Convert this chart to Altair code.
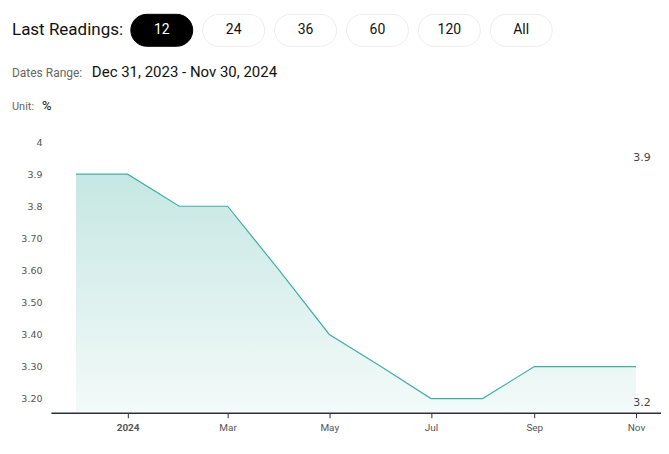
import altair as alt
import pandas as pd

dates = ["2023-12-01", "2024-01-01", "2024-02-01", "2024-03-01", "2024-04-01", "2024-05-01",
         "2024-06-01", "2024-07-01", "2024-08-01", "2024-09-01", "2024-10-01", "2024-11-01"]
values = [3.9, 3.9, 3.8, 3.8, 3.6, 3.4, 3.3, 3.2, 3.2, 3.3, 3.3, 3.3]
y_ticks = [3.2, 3.3, 3.4, 3.5, 3.6, 3.7, 3.8, 3.9, 4.0]
tick_dates = ["2024-01-01", "2024-03-01", "2024-05-01", "2024-07-01", "2024-09-01", "2024-11-01"]
buttons = ["12", "24", "36", "60", "120", "All"]

df = pd.DataFrame({"date": pd.to_datetime(dates), "value": values})
ymin = 3.156
FONT = "Roboto"
AXFONT = "DejaVu Sans"

x_scale = alt.Scale(domain=[alt.DateTime(year=2023, month=11, date=16),
                            alt.DateTime(year=2024, month=11, date=16)])
y_scale = alt.Scale(domain=[ymin, 4.0], nice=False, zero=False)

ylab = ("datum.value == 4 ? '4' : abs(datum.value - 3.9) < 0.001 ? '3.9' : "
        "abs(datum.value - 3.8) < 0.001 ? '3.8' : format(datum.value, '.2f')")
xlab = ("month(datum.value) == 0 ? timeFormat(datum.value, '%Y') : timeFormat(datum.value, '%b')")

x_axis = alt.Axis(values=[alt.DateTime(year=int(d[:4]), month=int(d[5:7]), date=1) for d in tick_dates],
                  labelExpr=xlab, grid=False, domainColor="#2b2d42", domainWidth=1.5,
                  tickColor="#2b2d42", tickSize=5, labelColor="#555555",
                  labelFontWeight={"condition": {"test": "month(datum.value) == 0", "value": "bold"}, "value": "normal"},
                  labelFont=FONT, labelFontSize=10, labelPadding=5, labelOverlap=False)
y_axis = alt.Axis(values=y_ticks, labelExpr=ylab, grid=False, domain=False, ticks=False,
                  labelColor="#555555", labelFont=AXFONT, labelFontSize=9.5, labelPadding=9,
                  labelOverlap=False)
x_enc = alt.X("date:T", scale=x_scale, title=None, axis=x_axis)
y_enc = alt.Y("value:Q", scale=y_scale, title=None, axis=y_axis)

base = alt.Chart(df)
area = base.mark_area(
    color=alt.Gradient(gradient="linear", x1=0, y1=0, x2=0, y2=1,
                       stops=[alt.GradientStop(color="#c6e7e3", offset=0),
                              alt.GradientStop(color="#f3faf9", offset=1)])
).encode(x=x_enc, y=y_enc, y2=alt.datum(ymin + 0.004))
line = base.mark_line(color="#3fb0a4", strokeWidth=1.2).encode(x=x_enc, y=y_enc)

ext = pd.DataFrame({"date": pd.to_datetime([dates[-1], dates[-1]]),
                    "value": [max(values), min(values)],
                    "label": [str(max(values)), str(min(values))]})
maxlab = alt.Chart(ext.iloc[[0]]).mark_text(font=AXFONT, fontSize=11, color="#444444", dx=6, dy=-16).encode(
    x=x_enc, y=y_enc, text="label:N")
minlab = alt.Chart(ext.iloc[[1]]).mark_text(font=AXFONT, fontSize=11, color="#444444", dx=6, dy=4).encode(
    x=x_enc, y=y_enc, text="label:N")

layers = [area, line, maxlab, minlab]

one = pd.DataFrame({"a": [0]})
def t(x, y, text, size, color, align="left", weight="normal"):
    return alt.Chart(one).mark_text(text=text, font=FONT, fontSize=size, color=color, align=align,
                                    baseline="middle", fontWeight=weight).encode(
        x=alt.value(x), y=alt.value(y))

layers.append(t(12 - 51, 30 - 142, "Last Readings:", 17, "#111111"))
for i, b in enumerate(buttons):
    cx = 162 + 72 * i - 51
    sel = i == 0
    layers.append(alt.Chart(one).mark_rect(cornerRadius=16, fill="#000000" if sel else "#ffffff",
                                           stroke="#000000" if sel else "#ececec", strokeWidth=1).encode(
        x=alt.value(cx - 31), x2=alt.value(cx + 31), y=alt.value(14 - 142), y2=alt.value(46 - 142)))
    layers.append(t(cx, 30 - 142, b, 14, "#ffffff" if sel else "#111111", align="center"))
layers.append(t(12 - 51, 73 - 142, "Dates Range:", 12, "#666666"))
layers.append(t(92 - 51, 72 - 142, "Dec 31, 2023 - Nov 30, 2024", 15, "#111111"))
layers.append(t(12 - 51, 107 - 142, "Unit:", 11, "#666666"))
layers.append(t(42 - 51, 106 - 142, "%", 13, "#111111"))

chart = alt.layer(*layers).properties(
    width=611, height=271,
    autosize=alt.AutoSizeParams(type="none"),
    padding={"left": 43, "top": 134, "right": 0, "bottom": 30},
).configure(background="#ffffff").configure_view(stroke=None, strokeWidth=0)

chart.save("out.html", embed_options={"renderer": "svg", "actions": False})
